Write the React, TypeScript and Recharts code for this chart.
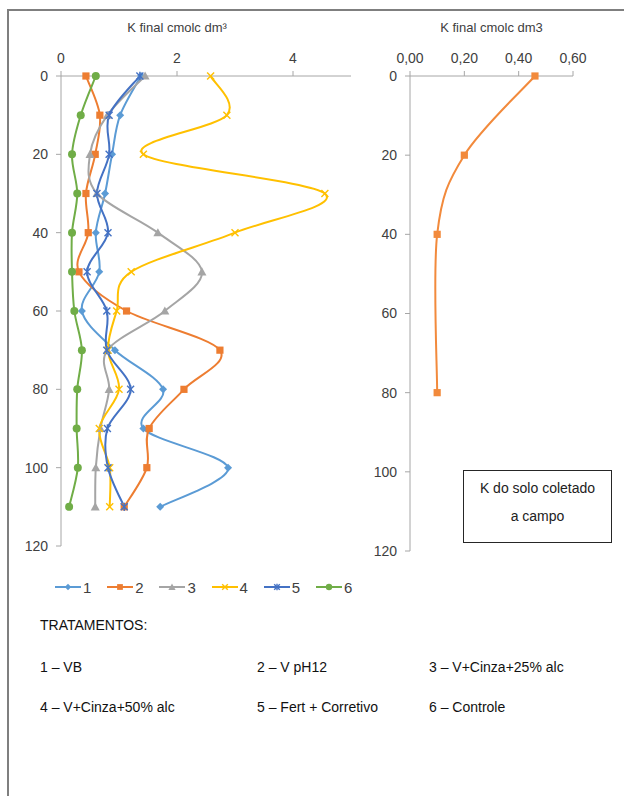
import React from 'react';
import { LineChart, Line, XAxis, YAxis } from 'recharts';

// ---- Data ----
const depths = [0, 10, 20, 30, 40, 50, 60, 70, 80, 90, 100, 110];
const t1VB = [1.38, 1.02, 0.88, 0.76, 0.6, 0.66, 0.36, 0.93, 1.76, 1.42, 2.88, 1.71];
const t2VpH12 = [0.43, 0.67, 0.59, 0.43, 0.47, 0.31, 1.13, 2.74, 2.12, 1.52, 1.48, 1.09];
const t3Cinza25 = [1.45, 0.8, 0.5, 0.62, 1.67, 2.43, 1.79, 0.8, 0.83, 0.68, 0.6, 0.59];
const t4Cinza50 = [2.58, 2.86, 1.42, 4.55, 3.0, 1.21, 0.96, 0.81, 1.0, 0.66, 0.84, 0.84];
const t5FertCorr = [1.36, 0.83, 0.83, 0.62, 0.81, 0.45, 0.79, 0.79, 1.2, 0.8, 0.81, 1.09];
const t6Controle = [0.6, 0.34, 0.19, 0.28, 0.19, 0.19, 0.23, 0.36, 0.28, 0.27, 0.29, 0.14];

const depthTicks = [0, 20, 40, 60, 80, 100, 120];
const leftXTicks = [0, 2, 4];

const fieldDepths = [0, 20, 40, 80];
const fieldK = [0.46, 0.2, 0.1, 0.1];
const rightXTicks = [0, 0.2, 0.4, 0.6];

const seriesNames = ['1', '2', '3', '4', '5', '6'];
const treatmentLabels = [
  '1 – VB',
  '2 – V pH12',
  '3 – V+Cinza+25% alc',
  '4 – V+Cinza+50% alc',
  '5 – Fert + Corretivo',
  '6 – Controle',
];

const leftRows = depths.map((d, i) => ({
  depth: d,
  s1: t1VB[i],
  s2: t2VpH12[i],
  s3: t3Cinza25[i],
  s4: t4Cinza50[i],
  s5: t5FertCorr[i],
  s6: t6Controle[i],
}));
const rightRows = fieldDepths.map((d, i) => ({ depth: d, k: fieldK[i] }));

// ---- Styles ----
const FONT = '"Liberation Sans", Arial, sans-serif';
const AXIS = '#a6a6a6';
const TXT = '#404040';

type Shape = 'diamond' | 'square' | 'triangle' | 'x' | 'star' | 'circle';
const seriesStyle: { key: string; color: string; shape: Shape }[] = [
  { key: 's1', color: '#5B9BD5', shape: 'diamond' },
  { key: 's2', color: '#ED7D31', shape: 'square' },
  { key: 's3', color: '#A5A5A5', shape: 'triangle' },
  { key: 's4', color: '#FFC000', shape: 'x' },
  { key: 's5', color: '#4472C4', shape: 'star' },
  { key: 's6', color: '#70AD47', shape: 'circle' },
];

// Excel-like smoothed line (Catmull-Rom / Bezier)
function excelSmooth(context: any) {
  let pts: number[][] = [];
  return {
    areaStart() {},
    areaEnd() {},
    lineStart() {
      pts = [];
    },
    point(x: number, y: number) {
      pts.push([+x, +y]);
    },
    lineEnd() {
      if (!pts.length) return;
      context.moveTo(pts[0][0], pts[0][1]);
      for (let i = 0; i < pts.length - 1; i++) {
        const p0 = pts[i - 1] || pts[i];
        const p1 = pts[i];
        const p2 = pts[i + 1];
        const p3 = pts[i + 2] || p2;
        context.bezierCurveTo(
          p1[0] + (p2[0] - p0[0]) / 6,
          p1[1] + (p2[1] - p0[1]) / 6,
          p2[0] - (p3[0] - p1[0]) / 6,
          p2[1] - (p3[1] - p1[1]) / 6,
          p2[0],
          p2[1]
        );
      }
    },
  };
}

function Marker({ shape, x, y, color, s = 1 }: { shape: Shape; x: number; y: number; color: string; s?: number }) {
  switch (shape) {
    case 'diamond': {
      const r = 4 * s;
      return <polygon points={`${x},${y - r} ${x + r},${y} ${x},${y + r} ${x - r},${y}`} fill={color} />;
    }
    case 'square': {
      const r = 3.6 * s;
      return <rect x={x - r} y={y - r} width={2 * r} height={2 * r} fill={color} />;
    }
    case 'triangle': {
      const r = 4.5 * s;
      return <polygon points={`${x},${y - r} ${x + r},${y + r * 0.8} ${x - r},${y + r * 0.8}`} fill={color} />;
    }
    case 'x': {
      const r = 3.5 * s;
      return (
        <g stroke={color} strokeWidth={1.4}>
          <line x1={x - r} y1={y - r} x2={x + r} y2={y + r} />
          <line x1={x - r} y1={y + r} x2={x + r} y2={y - r} />
        </g>
      );
    }
    case 'star': {
      const r = 3.5 * s;
      return (
        <g stroke={color} strokeWidth={1.4}>
          <line x1={x - r} y1={y - r} x2={x + r} y2={y + r} />
          <line x1={x - r} y1={y + r} x2={x + r} y2={y - r} />
          <line x1={x} y1={y - r * 1.2} x2={x} y2={y + r * 1.2} />
        </g>
      );
    }
    case 'circle':
    default:
      return <circle cx={x} cy={y} r={4 * s} fill={color} />;
  }
}

const makeDot = (shape: Shape, color: string, name: string) => (props: any) => {
  const { cx, cy, index } = props;
  if (cx == null || cy == null || isNaN(cx) || isNaN(cy)) return <g key={`${name}-${index}`} />;
  return (
    <g key={`${name}-${index}`}>
      <Marker shape={shape} x={cx} y={cy} color={color} />
    </g>
  );
};

const tickStyle = { fill: TXT, fontSize: 14, fontFamily: FONT };

export default function App() {
  return (
    <div
      style={{
        position: 'absolute',
        left: 0,
        top: 0,
        width: 624,
        height: 796,
        overflow: 'hidden',
        background: '#fff',
        fontFamily: FONT,
      }}
    >
      {/* page frame */}
      <div
        style={{
          position: 'absolute',
          left: 7,
          top: 9,
          width: 700,
          height: 900,
          borderLeft: '2px solid #7f7f7f',
          borderTop: '2px solid #7f7f7f',
        }}
      />

      {/* left chart title */}
      <div style={{ position: 'absolute', left: 61, width: 232, top: 19, textAlign: 'center', fontSize: 13, color: TXT, lineHeight: '18px' }}>
        K final cmolc dm³
      </div>

      {/* left chart */}
      <div style={{ position: 'absolute', left: 0, top: 0 }}>
        <LineChart width={360} height={560} data={leftRows} layout="vertical" margin={{ top: 46, left: 21, right: 9, bottom: 14 }}>
          <XAxis
            type="number"
            orientation="top"
            domain={[0, 5]}
            ticks={leftXTicks}
            height={30}
            tick={tickStyle}
            tickSize={5}
            tickMargin={8}
            stroke={AXIS}
            allowDataOverflow
          />
          <YAxis
            type="number"
            dataKey="depth"
            domain={[0, 120]}
            ticks={depthTicks}
            width={40}
            tick={tickStyle}
            tickSize={5}
            tickMargin={8}
            stroke={AXIS}
          />
          {seriesStyle.map((s, i) => (
            <Line
              key={s.key}
              dataKey={s.key}
              name={seriesNames[i]}
              type={excelSmooth as any}
              stroke={s.color}
              strokeWidth={2}
              dot={makeDot(s.shape, s.color, s.key)}
              activeDot={false}
              isAnimationActive={false}
            />
          ))}
        </LineChart>
      </div>

      {/* right chart title */}
      <div style={{ position: 'absolute', left: 410, width: 163, top: 19, textAlign: 'center', fontSize: 13, color: TXT, lineHeight: '18px' }}>
        K final cmolc dm3
      </div>

      {/* right chart */}
      <div style={{ position: 'absolute', left: 360, top: 0 }}>
        <LineChart width={230} height={570} data={rightRows} layout="vertical" margin={{ top: 46, left: 10, right: 17, bottom: 19 }}>
          <XAxis
            type="number"
            orientation="top"
            domain={[0, 0.6]}
            ticks={rightXTicks}
            height={30}
            tick={tickStyle}
            tickSize={5}
            tickMargin={8}
            stroke={AXIS}
            tickFormatter={(v: number) => v.toFixed(2).replace('.', ',')}
          />
          <YAxis
            type="number"
            dataKey="depth"
            domain={[0, 120]}
            ticks={depthTicks}
            width={40}
            tick={tickStyle}
            tickSize={5}
            tickMargin={8}
            stroke={AXIS}
          />
          <Line
            dataKey="k"
            type={excelSmooth as any}
            stroke="#F28A3C"
            strokeWidth={2}
            dot={makeDot('square', '#F28A3C', 'k')}
            activeDot={false}
            isAnimationActive={false}
          />
        </LineChart>
      </div>

      {/* annotation box */}
      <div
        style={{
          position: 'absolute',
          left: 463,
          top: 470,
          width: 147,
          height: 68,
          border: '1.5px solid #262626',
          textAlign: 'center',
          fontSize: 14,
          lineHeight: '28px',
          paddingTop: 3,
          boxSizing: 'content-box',
          color: '#222',
        }}
      >
        K do solo coletado
        <br />a campo
      </div>

      {/* legend */}
      {seriesStyle.map((s, i) => {
        const x0 = 55 + i * 52.2;
        return (
          <div key={`lg-${s.key}`} style={{ position: 'absolute', left: x0, top: 577, height: 20, display: 'flex', alignItems: 'center' }}>
            <svg width={26} height={20}>
              <line x1={0} y1={10} x2={26} y2={10} stroke={s.color} strokeWidth={2} />
              <Marker shape={s.shape} x={13} y={10} color={s.color} s={0.8} />
            </svg>
            <span style={{ fontSize: 15, color: TXT, marginLeft: 2 }}>{seriesNames[i]}</span>
          </div>
        );
      })}

      {/* treatments */}
      <div style={{ position: 'absolute', left: 40, top: 616, fontSize: 14, color: '#111', lineHeight: '18px' }}>TRATAMENTOS:</div>
      {treatmentLabels.map((t, i) => {
        const col = i % 3;
        const row = Math.floor(i / 3);
        const lefts = [40, 257, 429];
        const tops = [658, 698];
        return (
          <div key={`tr-${i}`} style={{ position: 'absolute', left: lefts[col], top: tops[row], fontSize: 14, color: '#111', lineHeight: '18px', whiteSpace: 'nowrap' }}>
            {t}
          </div>
        );
      })}
    </div>
  );
}
